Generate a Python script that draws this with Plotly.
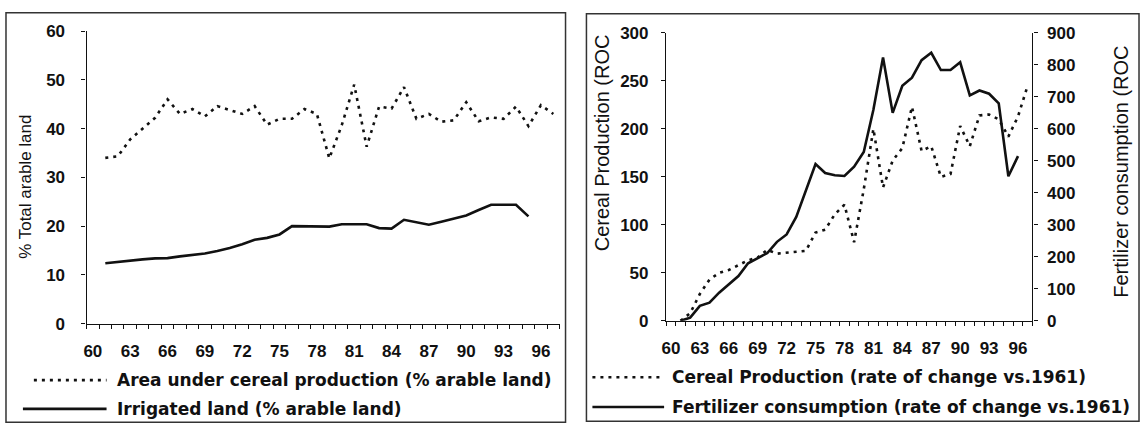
import plotly.graph_objects as go

# ---- data -------------------------------------------------------------
years_area = list(range(61, 98))                             # 61 .. 97
area_cereal = [34.0, 34.3, 37.8, 40.0, 42.2, 46.0, 43.0, 44.0, 42.5, 44.6,
               43.8, 43.0, 44.6, 40.8, 42.0, 42.0, 44.0, 43.0, 33.9, 40.7,
               49.0, 36.3, 44.5, 44.1, 48.5, 42.0, 43.0, 41.4, 41.7, 45.4,
               41.5, 42.3, 42.0, 44.5, 40.5, 44.8, 43.0]

years_irr = list(range(61, 96))                              # 61 .. 95
irrigated = [12.4, 12.7, 12.9, 13.2, 13.4, 13.45, 13.8, 14.1, 14.4, 14.9,
             15.5, 16.3, 17.2, 17.6, 18.3, 20.0, 20.0, 20.0, 19.9, 20.4,
             20.4, 20.4, 19.6, 19.5, 21.3, 20.8, 20.3, 20.9, 21.6, 22.2,
             23.3, 24.4, 24.4, 24.4, 22.0]

years_cereal = list(range(61, 98))                           # 61 .. 97
cereal_roc = [0, 8, 28, 43, 50, 53, 58, 63, 66, 74,
              70, 71, 72, 73, 92, 95, 111, 121, 82, 137,
              200, 139, 167, 180, 223, 177, 182, 150, 153, 203,
              182, 214, 215, 210, 192, 213, 245]

years_fert = list(range(61, 97))                             # 61 .. 96
fert_roc = [0, 10, 47, 57, 88, 115, 140, 180, 197, 212,
            247, 270, 325, 410, 490, 462, 455, 453, 482, 528,
            660, 823, 650, 735, 760, 815, 838, 784, 784, 808,
            705, 720, 710, 680, 452, 515]

year_ticks = list(range(60, 97, 3))
year_labels = [str(t) for t in year_ticks]

left_names = ["Area under cereal production (% arable land)",
              "Irrigated land (% arable land)"]
right_names = ["Cereal Production (rate of change vs.1961)",
               "Fertilizer consumption (rate of change vs.1961)"]

# ---- page geometry (pixels) -------------------------------------------
W, H = 1142, 438


def px(x):
    return x / W


def py(y):
    return 1 - y / H


INK = "#111111"
TICK_FONT = dict(family="Liberation Sans", size=17, color=INK, weight="bold")
LEG_FONT = dict(family="DejaVu Sans", size=17, color=INK, weight="bold")
TITLE_FAMILY = "Liberation Sans"
DOT = "3px,5px"
LW = 2.6

fig = go.Figure()

fig.add_trace(go.Scatter(x=years_area, y=area_cereal, mode="lines",
                         line=dict(color=INK, width=LW, dash=DOT),
                         xaxis="x", yaxis="y", showlegend=False))
fig.add_trace(go.Scatter(x=years_irr, y=irrigated, mode="lines",
                         line=dict(color=INK, width=LW),
                         xaxis="x", yaxis="y", showlegend=False))
fig.add_trace(go.Scatter(x=years_cereal, y=cereal_roc, mode="lines",
                         line=dict(color=INK, width=LW, dash=DOT),
                         xaxis="x2", yaxis="y2", showlegend=False))
fig.add_trace(go.Scatter(x=years_fert, y=fert_roc, mode="lines",
                         line=dict(color=INK, width=LW),
                         xaxis="x2", yaxis="y3", showlegend=False))


def year_axis(domain, anchor):
    return dict(domain=domain, anchor=anchor, range=[59.5, 97.5],
                tickmode="array", tickvals=year_ticks, ticktext=year_labels,
                ticks="", ticklabelstandoff=12, tickfont=TICK_FONT,
                showline=True, linecolor=INK, linewidth=1.3,
                showgrid=False, zeroline=False, fixedrange=True,
                minor=dict(tickmode="linear", tick0=59.5, dtick=1,
                           ticks="outside", ticklen=4, tickcolor=INK,
                           tickwidth=1, showgrid=False))


def value_axis(domain, anchor, rng, dtick, side="left", standoff=9):
    return dict(domain=domain, anchor=anchor, range=rng, dtick=dtick,
                side=side, ticks="outside", ticklen=4, tickcolor=INK,
                ticklabelstandoff=standoff, tickfont=TICK_FONT,
                showline=True, linecolor=INK, linewidth=1.3,
                showgrid=False, zeroline=False, fixedrange=True)


right_dom = [py(326), py(25)]
fig.update_layout(
    width=W, height=H, margin=dict(l=0, r=0, t=0, b=0),
    paper_bgcolor="white", plot_bgcolor="white",
    xaxis=year_axis([px(82), px(557)], "y"),
    yaxis=value_axis([py(329), py(23)], "x", [0, 60], 10, standoff=13),
    xaxis2=year_axis([px(664), px(1032)], "y2"),
    yaxis2=value_axis(right_dom, "x2", [0, 300], 50, standoff=9),
    yaxis3=dict(value_axis(right_dom, "x2", [0, 900], 100,
                           side="right", standoff=6),
                overlaying="y2"),
    # inner half of the cross ticks on the secondary axis
    yaxis4=dict(domain=right_dom, anchor="x2", overlaying="y2",
                side="right", range=[0, 900], dtick=100, ticks="inside",
                ticklen=4, tickcolor=INK, showticklabels=False,
                showline=False, showgrid=False, zeroline=False,
                fixedrange=True),
)

shapes = []
# panel frames
shapes.append(dict(type="rect", xref="paper", yref="paper",
                   x0=px(1), x1=px(563), y0=py(432), y1=py(4),
                   line=dict(color="#333333", width=1.5)))
shapes.append(dict(type="rect", xref="paper", yref="paper",
                   x0=px(584), x1=px(1139), y0=py(431), y1=py(5),
                   line=dict(color="#333333", width=1.5)))

# legend keys
legend_rows = [
    (29, 102, 388, DOT, 110, left_names[0]),
    (18, 102, 418, None, 110, left_names[1]),
    (590, 660, 385, DOT, 668, right_names[0]),
    (590, 662, 416, None, 668, right_names[1]),
]
annotations = []
for x0, x1, y, dash, tx, label in legend_rows:
    ln = dict(color=INK, width=LW)
    if dash:
        ln["dash"] = dash
    shapes.append(dict(type="line", xref="paper", yref="paper",
                       x0=px(x0), x1=px(x1), y0=py(y), y1=py(y), line=ln))
    annotations.append(dict(text=label, xref="paper", yref="paper",
                            x=px(tx), y=py(y), xanchor="left",
                            yanchor="middle", showarrow=False,
                            font=LEG_FONT))

# axis titles
annotations.append(dict(text="% Total arable land", xref="paper",
                        yref="paper", x=px(21), y=py(186), textangle=-90,
                        showarrow=False, xanchor="center", yanchor="middle",
                        font=dict(family=TITLE_FAMILY, size=17, color=INK)))
annotations.append(dict(text="Cereal Production (ROC", xref="paper",
                        yref="paper", x=px(600), y=py(140), textangle=-90,
                        showarrow=False, xanchor="center", yanchor="middle",
                        font=dict(family=TITLE_FAMILY, size=20, color=INK)))
annotations.append(dict(text="Fertilizer consumption (ROC", xref="paper",
                        yref="paper", x=px(1121), y=py(170), textangle=-90,
                        showarrow=False, xanchor="center", yanchor="middle",
                        font=dict(family=TITLE_FAMILY, size=20, color=INK)))

fig.update_layout(shapes=shapes, annotations=annotations)

fig.write_html("out.html")
